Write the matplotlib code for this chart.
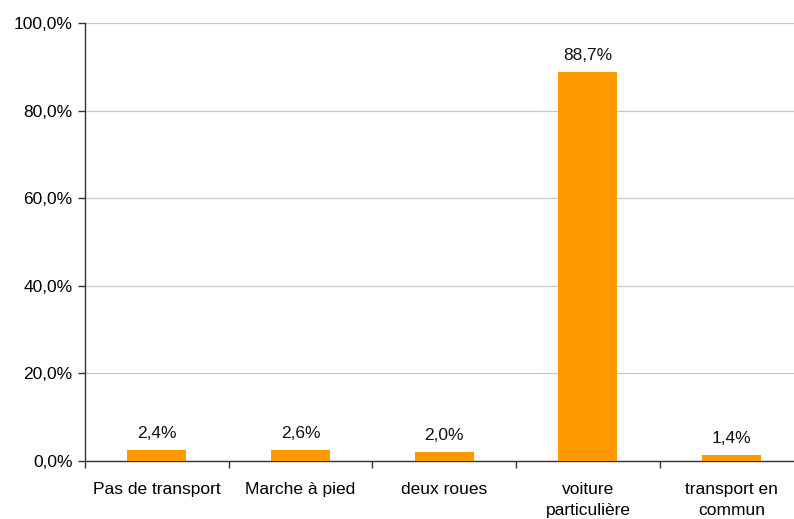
import matplotlib
matplotlib.use("Agg")
import matplotlib.pyplot as plt
from matplotlib.ticker import FuncFormatter, FixedLocator

plt.rcParams['font.family'] = ['Liberation Sans', 'DejaVu Sans']

categories = ["Pas de transport", "Marche à pied", "deux roues",
              "voiture\nparticulière", "transport en\ncommun"]
values = [2.4, 2.6, 2.0, 88.7, 1.4]
yticks = [0, 20, 40, 60, 80, 100]

FS = 12.5
W, H = 794, 519
fig = plt.figure(figsize=(W / 100, H / 100), dpi=100)
left, right, top, bottom = 85, 803.5, 23, 461
ax = fig.add_axes([left / W, 1 - bottom / H, (right - left) / W, (bottom - top) / H])

x = list(range(len(categories)))
bars = ax.bar(x, values, width=0.41, color="#FF9900", zorder=3)

for xi, v in zip(x, values):
    ax.annotate(f"{v:.1f}%".replace(".", ","), (xi, v), xytext=(0, 6.5),
                textcoords="offset points", ha="center", va="bottom",
                fontsize=FS, color="#111111")

ax.set_xlim(-0.5, len(categories) - 0.5)
ax.set_ylim(0, 100)
ax.set_yticks(yticks)
ax.yaxis.set_major_formatter(FuncFormatter(lambda v, p: f"{v:.1f}%".replace(".", ",")))
ax.grid(axis="y", color="#c8c8c8", linewidth=0.9, zorder=0)

ax.xaxis.set_major_locator(FixedLocator([i + 0.5 for i in range(-1, len(categories))]))
ax.set_xticklabels([])
ax.xaxis.set_minor_locator(FixedLocator(x))
ax.set_xticklabels(categories, minor=True, linespacing=1.55)
ax.tick_params(axis="x", which="minor", length=0, pad=15, labelsize=FS)
ax.tick_params(axis="x", which="major", length=5, width=1, color="#333333")
ax.tick_params(axis="y", length=5, width=1, color="#333333", labelsize=FS, pad=4)

for s in ["top", "right"]:
    ax.spines[s].set_visible(False)
for s in ["left", "bottom"]:
    ax.spines[s].set_color("#333333")
    ax.spines[s].set_linewidth(1)

fig.savefig("out.png", dpi=100)
